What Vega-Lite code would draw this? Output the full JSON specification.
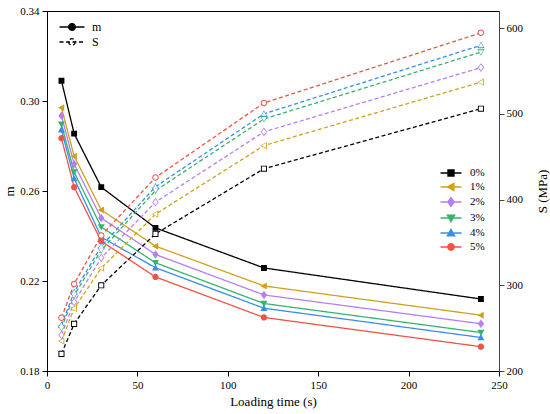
{
  "$schema": "https://vega.github.io/schema/vega-lite/v6.json",
  "width": 452,
  "height": 360,
  "autosize": {"type": "none"},
  "padding": {"left": 47, "top": 11, "right": 51, "bottom": 43},
  "config": {
    "font": "Liberation Serif",
    "view": {"stroke": "black", "strokeWidth": 1},
    "axis": {
      "grid": false,
      "domainColor": "black",
      "tickColor": "black",
      "tickSize": 5,
      "labelFont": "Liberation Serif",
      "labelFontSize": 11,
      "labelColor": "black",
      "titleFont": "Liberation Serif",
      "titleFontSize": 13,
      "titleFontWeight": "normal",
      "titleColor": "black"
    },
    "legend": {
      "labelFont": "Liberation Serif",
      "labelFontSize": 11,
      "labelColor": "black",
      "padding": 0
    }
  },
  "data": {
    "values": [
      {"pct": "0%", "t": 8, "m": 0.309, "S": 220},
      {"pct": "0%", "t": 15, "m": 0.2855, "S": 255},
      {"pct": "0%", "t": 30, "m": 0.2617, "S": 300},
      {"pct": "0%", "t": 60, "m": 0.2436, "S": 360},
      {"pct": "0%", "t": 120, "m": 0.2258, "S": 436},
      {"pct": "0%", "t": 240, "m": 0.212, "S": 506},
      {"pct": "1%", "t": 8, "m": 0.297, "S": 235},
      {"pct": "1%", "t": 15, "m": 0.2755, "S": 273},
      {"pct": "1%", "t": 30, "m": 0.2516, "S": 320},
      {"pct": "1%", "t": 60, "m": 0.2355, "S": 383},
      {"pct": "1%", "t": 120, "m": 0.2178, "S": 463},
      {"pct": "1%", "t": 240, "m": 0.2048, "S": 537},
      {"pct": "2%", "t": 8, "m": 0.2935, "S": 242},
      {"pct": "2%", "t": 15, "m": 0.272, "S": 280.5},
      {"pct": "2%", "t": 30, "m": 0.248, "S": 332},
      {"pct": "2%", "t": 60, "m": 0.2318, "S": 397},
      {"pct": "2%", "t": 120, "m": 0.2138, "S": 479},
      {"pct": "2%", "t": 240, "m": 0.201, "S": 554},
      {"pct": "3%", "t": 8, "m": 0.2897, "S": 250},
      {"pct": "3%", "t": 15, "m": 0.2684, "S": 288},
      {"pct": "3%", "t": 30, "m": 0.244, "S": 341},
      {"pct": "3%", "t": 60, "m": 0.2281, "S": 410.5},
      {"pct": "3%", "t": 120, "m": 0.21, "S": 494},
      {"pct": "3%", "t": 240, "m": 0.1971, "S": 572},
      {"pct": "4%", "t": 8, "m": 0.2873, "S": 253.5},
      {"pct": "4%", "t": 15, "m": 0.2656, "S": 292},
      {"pct": "4%", "t": 30, "m": 0.2395, "S": 345.5},
      {"pct": "4%", "t": 60, "m": 0.2259, "S": 415},
      {"pct": "4%", "t": 120, "m": 0.2079, "S": 500},
      {"pct": "4%", "t": 240, "m": 0.1949, "S": 580},
      {"pct": "5%", "t": 8, "m": 0.2835, "S": 262},
      {"pct": "5%", "t": 15, "m": 0.2617, "S": 301.6},
      {"pct": "5%", "t": 30, "m": 0.2377, "S": 358},
      {"pct": "5%", "t": 60, "m": 0.2218, "S": 425.7},
      {"pct": "5%", "t": 120, "m": 0.2038, "S": 512.7},
      {"pct": "5%", "t": 240, "m": 0.1908, "S": 594.6}
    ]
  },
  "encoding": {
    "x": {
      "field": "t",
      "type": "quantitative",
      "scale": {"domain": [0, 250], "nice": false, "zero": false},
      "axis": {"values": [0, 50, 100, 150, 200, 250], "title": "Loading time (s)", "labelFlush": false, "labelPadding": 3, "titlePadding": 5}
    }
  },
  "layer": [
    {
      "encoding": {
        "y": {
          "field": "m",
          "type": "quantitative",
          "scale": {"domain": [0.18, 0.34], "nice": false, "zero": false},
          "axis": {"orient": "left", "values": [0.18, 0.22, 0.26, 0.30, 0.34], "format": ".2f", "title": "m", "labelPadding": 3, "titlePadding": 3}
        }
      },
      "layer": [
        {
          "mark": {"type": "line", "strokeWidth": 1.3},
          "encoding": {
            "stroke": {
              "field": "pct",
              "type": "nominal",
              "scale": {"domain": ["0%", "1%", "2%", "3%", "4%", "5%"], "range": ["#000000", "#d1a01c", "#b67ff2", "#35b46b", "#3a8ee6", "#ef5446"]},
              "legend": {"orient": "none", "legendX": 396, "legendY": 154, "title": null, "symbolSize": 196, "symbolStrokeWidth": 1.5, "labelOffset": 11, "rowPadding": -1}
            },
            "strokeDash": {
              "datum": "m",
              "type": "nominal",
              "scale": {"domain": ["m", "S"], "range": [[1, 0], [4, 2.5]]},
              "legend": {
                "orient": "none", "legendX": 16, "legendY": 7, "title": null, "symbolSize": 278, "labelOffset": 11, "rowPadding": -3, "labelFontSize": 12,
                "encode": {"symbols": {"update": {
                  "shape": {"value": "M-1.5,0H1.5M0.4,0A0.4,0.4,0,1,1,-0.4,0A0.4,0.4,0,1,1,0.4,0Z"},
                  "fill": {"signal": "datum.value === 'm' ? 'black' : 'white'"},
                  "stroke": {"value": "black"},
                  "strokeWidth": {"value": 1.3}
                }}}
              }
            }
          }
        },
        {
          "mark": {"type": "point", "filled": true, "size": 196, "opacity": 1},
          "encoding": {
            "fill": {
              "field": "pct",
              "type": "nominal",
              "scale": {"domain": ["0%", "1%", "2%", "3%", "4%", "5%"], "range": ["#000000", "#d1a01c", "#b67ff2", "#35b46b", "#3a8ee6", "#ef5446"]},
              "legend": {"orient": "none", "legendX": 396, "legendY": 154, "title": null, "symbolSize": 196, "symbolStrokeWidth": 1.5, "labelOffset": 11, "rowPadding": -1}
            },
            "shape": {
              "field": "pct",
              "type": "nominal",
              "scale": {"domain": ["0%", "1%", "2%", "3%", "4%", "5%"], "range": [
                "M-1.5,0H1.5M-0.42,-0.42H0.42V0.42H-0.42Z",
                "M-1.5,0H1.5M-0.5,0L0.4,-0.5L0.4,0.5Z",
                "M-1.5,0H1.5M0,-0.6L0.45,0L0,0.6L-0.45,0Z",
                "M-1.5,0H1.5M-0.5,-0.4L0.5,-0.4L0,0.5Z",
                "M-1.5,0H1.5M-0.5,0.4L0.5,0.4L0,-0.5Z",
                "M-1.5,0H1.5M0.45,0A0.45,0.45,0,1,1,-0.45,0A0.45,0.45,0,1,1,0.45,0Z"
              ]},
              "legend": {"orient": "none", "legendX": 396, "legendY": 154, "title": null, "symbolSize": 196, "symbolStrokeWidth": 1.5, "labelOffset": 11, "rowPadding": -1}
            }
          }
        }
      ]
    },
    {
      "encoding": {
        "y": {
          "field": "S",
          "type": "quantitative",
          "scale": {"domain": [200, 620], "nice": false, "zero": false},
          "axis": {"orient": "right", "values": [200, 300, 400, 500, 600], "title": "S (MPa)", "titleAngle": 270, "domainColor": "#444", "tickColor": "#444", "labelPadding": 2, "titlePadding": 27}
        }
      },
      "layer": [
        {
          "mark": {"type": "line", "strokeWidth": 1.3},
          "encoding": {
            "stroke": {"field": "pct", "type": "nominal", "legend": null},
            "strokeDash": {"datum": "S", "type": "nominal", "legend": null}
          }
        },
        {
          "mark": {"type": "point", "filled": true, "size": 210, "opacity": 1},
          "encoding": {
            "fill": {"field": "pct", "type": "nominal", "legend": null},
            "shape": {"field": "pct", "type": "nominal", "legend": null}
          }
        },
        {
          "mark": {"type": "point", "filled": true, "fill": "white", "size": 100, "opacity": 1},
          "encoding": {
            "shape": {"field": "pct", "type": "nominal", "legend": null}
          }
        }
      ]
    }
  ],
  "resolve": {"scale": {"y": "independent"}}
}
